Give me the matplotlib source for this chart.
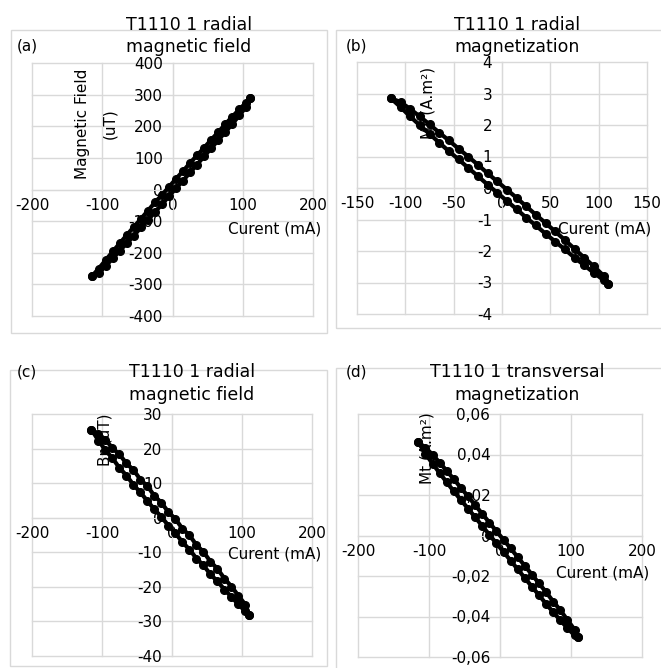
import matplotlib
matplotlib.use("Agg")
import matplotlib.pyplot as plt
from matplotlib.patches import Rectangle
from matplotlib.ticker import FuncFormatter, MultipleLocator

W, H = 661, 668
GRID = "#d9d9d9"
plt.rcParams["font.family"] = ["DejaVu Sans"]

# current sweep (mA): rising branch, then back down
CURRENT_UP = [-115, -105, -95, -85, -75, -65, -55, -45, -35, -25, -15, -5,
              5, 15, 25, 35, 45, 55, 65, 75, 85, 95, 105, 110]
CURRENT_DOWN = CURRENT_UP[::-1]

# (a) radial magnetic field (uT)
FIELD_A_UP = [-275, -263, -241, -218, -193, -170, -146, -120, -97, -71, -47, -21,
              4, 28, 54, 79, 105, 130, 156, 181, 207, 234, 262, 288]
FIELD_A_DOWN = [288, 275, 253, 230, 206, 181, 157, 132, 108, 84, 58, 34,
                8, -17, -41, -67, -93, -118, -144, -170, -196, -223, -250, -275]

# (b) radial magnetization (A.m2)
MAG_B_UP = [2.85, 2.73, 2.51, 2.27, 2.02, 1.76, 1.51, 1.25, 1.00, 0.74, 0.47, 0.21,
            -0.05, -0.31, -0.58, -0.85, -1.11, -1.38, -1.65, -1.93, -2.21, -2.49, -2.78, -3.05]
MAG_B_DOWN = [-3.05, -2.92, -2.69, -2.45, -2.21, -1.95, -1.70, -1.45, -1.19, -0.94, -0.67, -0.41,
              -0.15, 0.11, 0.38, 0.64, 0.91, 1.17, 1.44, 1.72, 1.99, 2.27, 2.57, 2.85]

# (c) radial magnetic field, second probe (uT)
FIELD_C_UP = [25.5, 24.2, 22.6, 20.1, 18.3, 15.7, 13.8, 11.0, 9.1, 6.3, 4.3, 1.6,
              -0.4, -3.2, -5.1, -7.9, -9.9, -12.7, -14.8, -17.6, -19.9, -22.6, -25.2, -28.0]
FIELD_C_DOWN = [-28.0, -27.1, -25.1, -22.9, -20.8, -18.4, -16.4, -13.8, -11.8, -9.2, -7.1, -4.5,
                -2.3, 0.2, 2.4, 4.8, 7.3, 9.5, 12.2, 14.4, 17.2, 19.5, 22.3, 25.5]

# (d) transversal magnetization (A.m2)
MAG_D_UP = [0.046, 0.0434, 0.0399, 0.0360, 0.0319, 0.0278, 0.0235, 0.0193, 0.0150, 0.0107,
            0.0064, 0.0021, -0.0021, -0.0064, -0.0107, -0.0150, -0.0193, -0.0237, -0.0280,
            -0.0326, -0.0369, -0.0417, -0.0465, -0.050]
MAG_D_DOWN = [-0.050, -0.0493, -0.0457, -0.0419, -0.0379, -0.0338, -0.0295, -0.0253, -0.0210,
              -0.0167, -0.0124, -0.0081, -0.0039, 0.0004, 0.0047, 0.0090, 0.0133, 0.0175,
              0.0218, 0.0263, 0.0308, 0.0355, 0.0404, 0.046]

PANELS = [
    dict(letter="(a)", title=["T1110 1 radial", "magnetic field"],
         up=FIELD_A_UP, down=FIELD_A_DOWN,
         ylabel=[("Magnetic Field", 83, 124), ("(uT)", 110, 124)],
         xlabel=(275, 229), box=(11, 30, 327, 333), plot=(32, 63, 313, 316),
         xlim=(-200, 200), xstep=100, ylim=(-400, 400), ystep=100,
         letter_xy=(27, 46), title_xy=(189, 25, 47)),
    dict(letter="(b)", title=["T1110 1 radial", "magnetization"],
         up=MAG_B_UP, down=MAG_B_DOWN,
         ylabel=[("Mr (A.m²)", 428, 103)],
         xlabel=(605, 229), box=(336, 30, 668, 328), plot=(357, 62, 647, 314),
         xlim=(-150, 150), xstep=50, ylim=(-4, 4), ystep=1,
         letter_xy=(356, 46), title_xy=(517, 25, 47)),
    dict(letter="(c)", title=["T1110 1 radial", "magnetic field"],
         up=FIELD_C_UP, down=FIELD_C_DOWN,
         ylabel=[("Br (uT)", 105, 440)],
         xlabel=(275, 554), box=(10, 370, 327, 666), plot=(32, 414, 312, 656),
         xlim=(-200, 200), xstep=100, ylim=(-40, 30), ystep=10,
         letter_xy=(27, 372), title_xy=(192, 372, 395)),
    dict(letter="(d)", title=["T1110 1 transversal", "magnetization"],
         up=MAG_D_UP, down=MAG_D_DOWN,
         ylabel=[("Mt (A.m²)", 427, 448)],
         xlabel=(603, 573), box=(336, 368, 668, 672), plot=(358, 414, 642, 657),
         xlim=(-200, 200), xstep=100, ylim=(-0.06, 0.06), ystep=0.02,
         letter_xy=(356, 372), title_xy=(517, 372, 395)),
]

LABEL_SIZE = 11
TITLE_SIZE = 12.5


def fx(x):
    return x / W


def fy(y):
    return 1 - y / H


def fmt(v, pos):
    return f"{round(v, 4) + 0:g}".replace(".", ",")


fig = plt.figure(figsize=(W / 100, H / 100), dpi=100)

for p in PANELS:
    bx0, by0, bx1, by1 = p["box"]
    fig.add_artist(Rectangle((fx(bx0), fy(by1)), fx(bx1 - bx0), (by1 - by0) / H,
                             transform=fig.transFigure, fill=False,
                             edgecolor=GRID, lw=1, zorder=0))

    l, t, r, b = p["plot"]
    ax = fig.add_axes([fx(l), fy(b), (r - l) / W, (b - t) / H])
    ax.set_axisbelow(True)
    ax.set_xlim(*p["xlim"])
    ax.set_ylim(*p["ylim"])
    ax.xaxis.set_major_locator(MultipleLocator(p["xstep"]))
    ax.yaxis.set_major_locator(MultipleLocator(p["ystep"]))
    ax.xaxis.set_major_formatter(FuncFormatter(fmt))
    ax.yaxis.set_major_formatter(FuncFormatter(fmt))
    ax.grid(True, color=GRID, lw=1, clip_on=False)
    for side in ("top", "right"):
        ax.spines[side].set_visible(False)
    for side in ("left", "bottom"):
        ax.spines[side].set_position("zero")
        ax.spines[side].set_color(GRID)
        ax.spines[side].set_zorder(0.6)
    ax.tick_params(length=0, labelsize=LABEL_SIZE, colors="#000000")
    ax.tick_params(axis="x", pad=6)
    ax.tick_params(axis="y", pad=7)

    ax.plot(CURRENT_UP + CURRENT_DOWN, p["up"] + p["down"], color="black",
            lw=3, marker="o", ms=5.5, zorder=2, clip_on=False)

    for txt, x, y in p["ylabel"]:
        ax.text(fx(x), fy(y), txt, transform=fig.transFigure, rotation=90,
                ha="center", va="center", fontsize=LABEL_SIZE, zorder=1)
    ax.text(fx(p["xlabel"][0]), fy(p["xlabel"][1]), "Curent (mA)",
            transform=fig.transFigure, ha="center", va="center",
            fontsize=LABEL_SIZE, zorder=1)

    tx, ty1, ty2 = p["title_xy"]
    fig.text(fx(tx), fy(ty1), p["title"][0], ha="center", va="center", fontsize=TITLE_SIZE)
    fig.text(fx(tx), fy(ty2), p["title"][1], ha="center", va="center", fontsize=TITLE_SIZE)
    fig.text(fx(p["letter_xy"][0]), fy(p["letter_xy"][1]), p["letter"],
             ha="center", va="center", fontsize=LABEL_SIZE)

fig.savefig("out.png", dpi=100, facecolor="white")
